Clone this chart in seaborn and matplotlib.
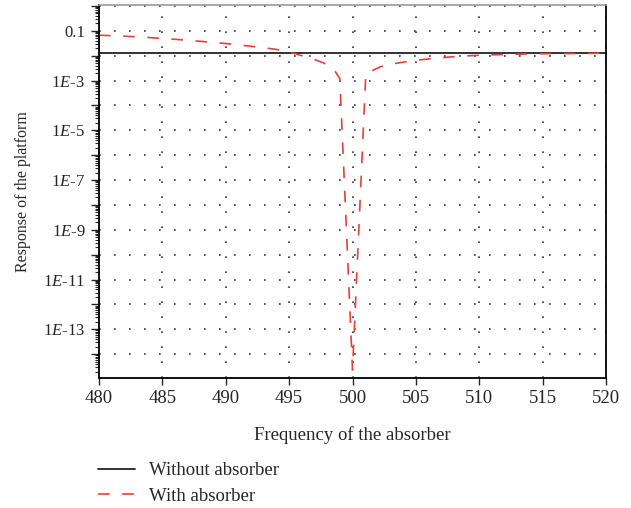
import numpy as np
import pandas as pd
import matplotlib
matplotlib.use("Agg")
import matplotlib.pyplot as plt
import matplotlib.ticker as mticker
import seaborn as sns

# values
freq_without = [480, 520]
resp_without = [0.013, 0.013]

freq_with = [480, 482.3, 484.2, 486.2, 488, 490, 492, 494, 495.5, 495.9, 496.9, 497.7,
             498.5, 499.0, 500.0, 501.05, 502.2, 502.9, 504.9, 506.7, 508.6, 510.5,
             512.4, 514.2, 518, 520]
resp_with = [0.067, 0.060, 0.053, 0.045, 0.038, 0.031, 0.024, 0.018, 0.012, 0.0104,
             0.0073, 0.0052, 0.0030, 0.0012, 2.3e-15, 0.0019, 0.0036, 0.0045, 0.0065,
             0.0081, 0.0097, 0.0107, 0.0113, 0.012, 0.0123, 0.0128]

x_ticks = [480, 485, 490, 495, 500, 505, 510, 515, 520]

sns.set_style("ticks")
plt.rcParams['font.family'] = ['Liberation Serif', 'DejaVu Serif']
plt.rcParams['mathtext.fontset'] = 'custom'
plt.rcParams['mathtext.it'] = 'Liberation Serif:italic'
plt.rcParams['mathtext.rm'] = 'Liberation Serif'

fig = plt.figure(figsize=(6.31, 5.08), dpi=100)
ax = fig.add_axes([0.1569, 0.2559, 0.8035, 0.7343])

sns.lineplot(x=freq_without, y=resp_without, ax=ax, color='#222222', lw=1.3,
             label='Without absorber')
sns.lineplot(x=freq_with, y=resp_with, ax=ax, color='#e8403a', lw=1.2,
             linestyle=(0, (7, 7.5)), label='With absorber', sort=False)

ax.set_yscale('log')
ax.set_xlim(480, 520)
ax.set_ylim(1.1e-15, 1.1)
ax.set_xticks(x_ticks)

ax.yaxis.set_major_locator(mticker.LogLocator(base=10, numticks=40))
ax.yaxis.set_minor_locator(mticker.LogLocator(base=10, subs=np.arange(2, 10), numticks=40))


def ylab(v, pos):
    e = int(round(np.log10(v)))
    if e == -1:
        return '0.1'
    if e % 2 == 1 or e % 2 == -1:
        return r'1$\mathit{E}$-' + str(-e)
    return ''


ax.yaxis.set_major_formatter(mticker.FuncFormatter(ylab))
ax.yaxis.set_minor_formatter(mticker.NullFormatter())

ax.tick_params(axis='y', which='major', length=6, width=1, labelsize=12, direction='out', pad=4)
ax.tick_params(axis='y', which='minor', length=3, width=0.8, direction='out')
ax.tick_params(axis='x', which='major', length=5, width=1, labelsize=13.5, direction='out')

ax.grid(True, which='major', color='#333333', lw=1.2, linestyle=(0, (1, 8)))

for side in ['left', 'bottom', 'right']:
    ax.spines[side].set_visible(True)
    ax.spines[side].set_color('black')
    ax.spines[side].set_linewidth(1.3)
ax.spines['top'].set_visible(True)
ax.spines['top'].set_color('#999999')
ax.spines['top'].set_linewidth(1.2)

ax.set_xlabel('Frequency of the absorber', fontsize=13.5, labelpad=14)
ax.set_ylabel('Response of the platform', fontsize=11.4, labelpad=8.5)

ax.get_legend().remove()
handles, labels = ax.get_legend_handles_labels()
fig.legend(handles, labels, loc='upper left', bbox_to_anchor=(0.155, 0.090),
           frameon=False, fontsize=13.5, handlelength=2.0, handletextpad=0.75,
           labelspacing=0.45, borderpad=0, borderaxespad=0)

fig.savefig('out.png', dpi=100)
